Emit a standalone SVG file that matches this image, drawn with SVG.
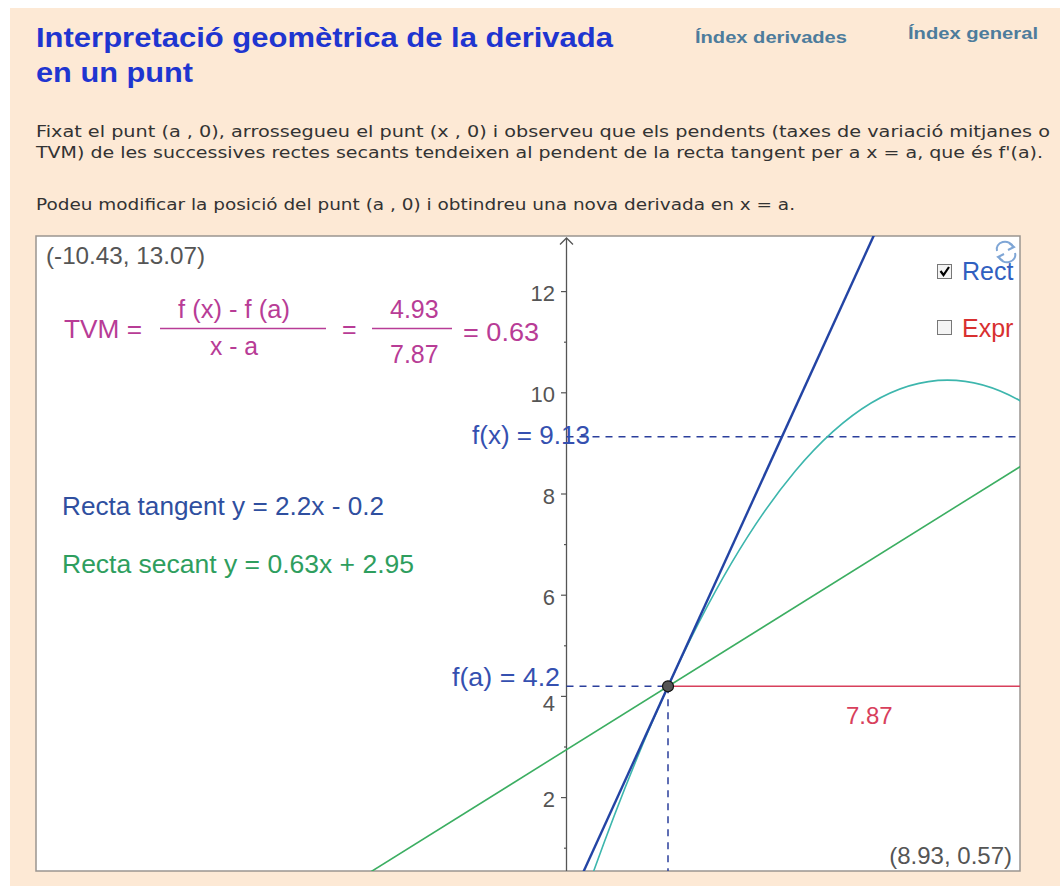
<svg xmlns="http://www.w3.org/2000/svg" width="1060" height="886" viewBox="0 0 1060 886">
<defs>
<style>
.title{font-family:"Liberation Sans",Arial,sans-serif;font-weight:bold;font-size:27px;fill:#1f35d0}
.link{font-family:"Liberation Sans",Arial,sans-serif;font-weight:bold;font-size:17px;fill:#4d7c9c}
.para{font-family:"DejaVu Sans","Liberation Sans",sans-serif;font-size:15.5px;fill:#333}
.g{font-family:"Liberation Sans",Arial,sans-serif;font-size:25px}
.ax{font-family:"Liberation Sans",Arial,sans-serif;font-size:22px;fill:#555;text-anchor:end}
.mag{fill:#b83c96}
.dash{stroke:#2b3f9c;stroke-width:1.5;stroke-dasharray:7 6;fill:none}
.tick{stroke:#555;stroke-width:1.2}
</style>
<clipPath id="plot"><rect x="36" y="236" width="984" height="635"/></clipPath>
</defs>
<rect width="1060" height="886" fill="#ffffff"/>
<rect x="10" y="8" width="1050" height="878" fill="#fde9d5"/>
<g id="header">
<text class="title" x="36" y="47" textLength="577" lengthAdjust="spacingAndGlyphs">Interpretació geomètrica de la derivada</text>
<text class="title" x="36" y="82" textLength="157" lengthAdjust="spacingAndGlyphs">en un punt</text>
<text class="link" x="695" y="43" textLength="152" lengthAdjust="spacingAndGlyphs">Índex derivades</text>
<text class="link" x="908" y="39" textLength="130" lengthAdjust="spacingAndGlyphs">Índex general</text>
</g>
<g id="intro">
<text class="para" x="36" y="137" textLength="1014" lengthAdjust="spacingAndGlyphs">Fixat el punt (a , 0), arrossegueu el punt (x , 0) i observeu que els pendents (taxes de variació mitjanes o</text>
<text class="para" x="36" y="158" textLength="1007" lengthAdjust="spacingAndGlyphs">TVM) de les successives rectes secants tendeixen al pendent de la recta tangent per a x = a, que és f'(a).</text>
<text class="para" x="36" y="210" textLength="759" lengthAdjust="spacingAndGlyphs">Podeu modificar la posició del punt (a , 0) i obtindreu una nova derivada en x = a.</text>
</g>
<g id="graph">
<rect x="36" y="236" width="984" height="635" fill="#ffffff" stroke="#9a9590" stroke-width="1.5"/>
<g id="axis">
<line x1="566.5" y1="871" x2="566.5" y2="238" stroke="#555" stroke-width="1.3"/>
<path d="M560,244.5 L566.5,238 L573,244.5" fill="none" stroke="#555" stroke-width="1.3"/>
<g class="tick">
<line x1="561" y1="797.6" x2="566.5" y2="797.6"/>
<line x1="561" y1="696.4" x2="566.5" y2="696.4"/>
<line x1="561" y1="595.2" x2="566.5" y2="595.2"/>
<line x1="561" y1="494" x2="566.5" y2="494"/>
<line x1="561" y1="392.8" x2="566.5" y2="392.8"/>
<line x1="561" y1="291.6" x2="566.5" y2="291.6"/>
<line x1="564" y1="848.2" x2="566.5" y2="848.2"/>
<line x1="564" y1="747" x2="566.5" y2="747"/>
<line x1="564" y1="645.8" x2="566.5" y2="645.8"/>
<line x1="564" y1="544.6" x2="566.5" y2="544.6"/>
<line x1="564" y1="443.4" x2="566.5" y2="443.4"/>
<line x1="564" y1="342.2" x2="566.5" y2="342.2"/>
</g>
<text class="ax" x="555" y="807">2</text>
<text class="ax" x="555" y="711">4</text>
<text class="ax" x="555" y="605">6</text>
<text class="ax" x="555" y="503.5">8</text>
<text class="ax" x="555" y="402">10</text>
<text class="ax" x="555" y="301">12</text>
</g>
<g id="connectors" clip-path="url(#plot)" fill="none">
<line id="dash-fx" class="dash" x1="566.5" y1="436.8" x2="1020" y2="436.8"/>
<line id="dash-fa" class="dash" x1="566.5" y1="686.3" x2="668" y2="686.3"/>
<line id="dash-a" class="dash" x1="668" y1="686.3" x2="668" y2="871"/>
<line id="secant" x1="312.5" y1="908.2" x2="1023.7" y2="464.4" stroke="#3cae62" stroke-width="1.6"/>
<line id="increment" x1="668" y1="686.3" x2="1020" y2="686.3" stroke="#d8405c" stroke-width="1.6"/>
<path id="curve" d="M566.5,949.4 Q795.1,266.3 1023.7,402.9" stroke="#3db6ad" stroke-width="1.6"/>
<line id="tangent" x1="566.5" y1="908.9" x2="922.1" y2="129.7" stroke="#2344a4" stroke-width="2.4"/>
</g>
<g id="point-a">
<circle cx="668" cy="686.3" r="5.5" fill="#555" stroke="#111" stroke-width="1.2"/>
</g>
<g id="labels" class="g">
<text x="46" y="264" font-size="24" fill="#555" textLength="159" lengthAdjust="spacingAndGlyphs">(-10.43, 13.07)</text>
<text x="1012" y="864" font-size="24" fill="#555" text-anchor="end">(8.93, 0.57)</text>
<text x="452" y="686" fill="#3550b0" textLength="108" lengthAdjust="spacingAndGlyphs">f(a) = 4.2</text>
<text x="472" y="444" fill="#3550b0" textLength="118" lengthAdjust="spacingAndGlyphs">f(x) = 9.13</text>
<text x="846" y="724" fill="#d8405c" font-size="24">7.87</text>
</g>
<g id="tvm" class="g">
<text class="mag" x="64" y="338" textLength="78" lengthAdjust="spacingAndGlyphs">TVM =</text>
<text class="mag" x="178" y="318" textLength="112" lengthAdjust="spacingAndGlyphs">f (x) - f (a)</text>
<line x1="160" y1="328.5" x2="326" y2="328.5" stroke="#b83c96" stroke-width="1.5"/>
<text class="mag" x="210" y="355" textLength="48" lengthAdjust="spacingAndGlyphs">x - a</text>
<text class="mag" x="342" y="338">=</text>
<text class="mag" x="390" y="318">4.93</text>
<line x1="372" y1="328.5" x2="452" y2="328.5" stroke="#b83c96" stroke-width="1.5"/>
<text class="mag" x="390" y="363">7.87</text>
<text class="mag" x="463" y="341" textLength="76" lengthAdjust="spacingAndGlyphs">= 0.63</text>
</g>
<g id="equations" class="g">
<text x="62" y="515" fill="#2f4f9f" textLength="322" lengthAdjust="spacingAndGlyphs">Recta tangent  y = 2.2x - 0.2</text>
<text x="62" y="573" fill="#2e9e5e" textLength="352" lengthAdjust="spacingAndGlyphs">Recta secant  y = 0.63x + 2.95</text>
</g>
<g id="controls">
<g id="refresh" fill="none" stroke="#7fa6d6" stroke-width="2">
<path d="M997,251 A8,7 0 0 1 1013,247"/>
<path d="M1009,243 L1014,247 L1008,250" />
<path d="M1015,253 A8,7 0 0 1 999,257"/>
<path d="M1003,261 L998,257 L1004,254"/>
</g>
<g id="cb-recta">
<rect x="937.5" y="264.5" width="14" height="14" fill="#f4f4f4" stroke="#777" stroke-width="1"/>
<path d="M940.5,271 L943.5,275 L949,267" fill="none" stroke="#000" stroke-width="2.2"/>
<text class="g" x="962" y="280" fill="#3060c0" font-size="25">Rect</text>
</g>
<g id="cb-expr">
<rect x="937.5" y="320.5" width="14" height="14" fill="#f4f4f4" stroke="#777" stroke-width="1"/>
<text class="g" x="962" y="337" fill="#d83030" font-size="25">Expr</text>
</g>
</g>
</g>
</svg>
